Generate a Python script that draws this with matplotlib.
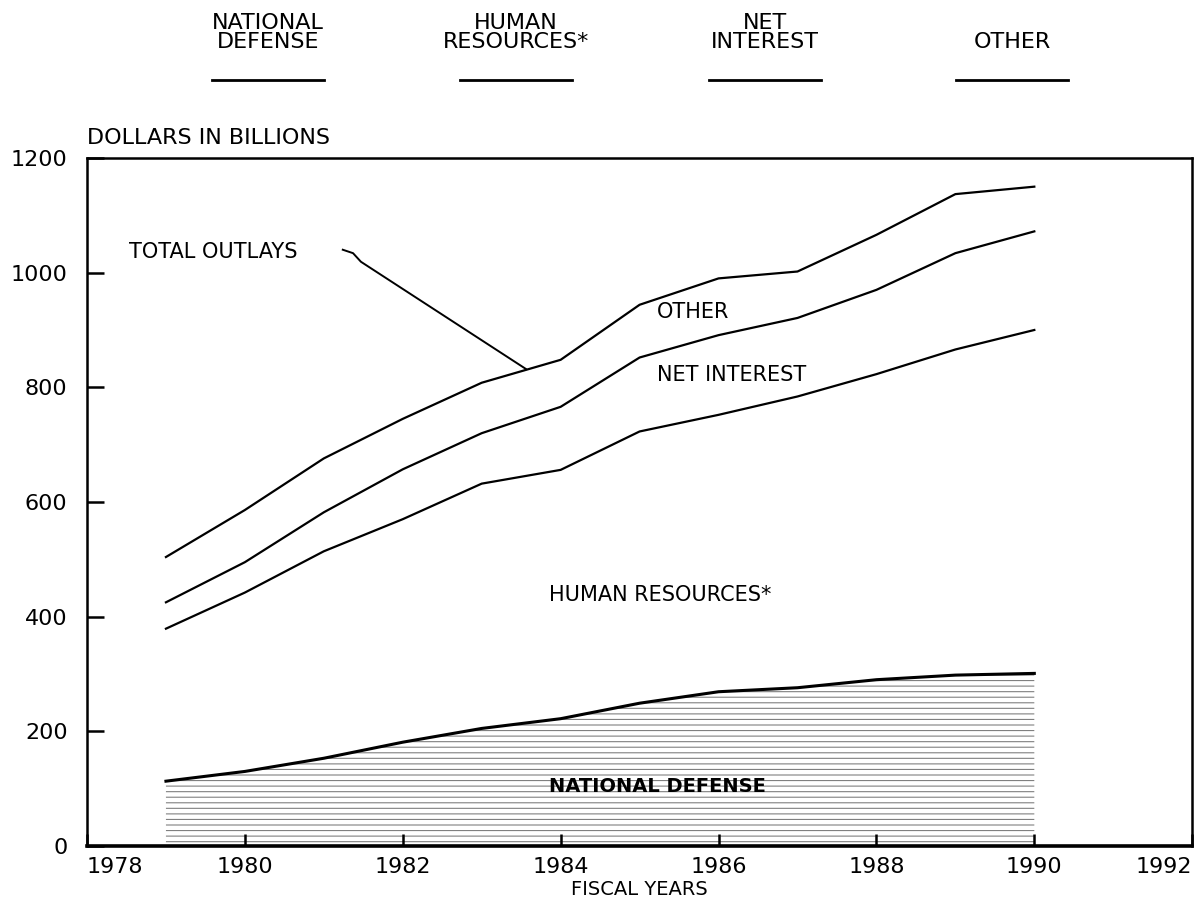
import matplotlib
matplotlib.use('Agg')
import matplotlib.pyplot as plt
from matplotlib.lines import Line2D
import numpy as np

# fiscal years and outlays (dollars in billions)
years = [1979, 1980, 1981, 1982, 1983, 1984, 1985, 1986, 1987, 1988, 1989, 1990]
national_defense = [113, 130, 153, 181, 205, 222, 249, 269, 276, 290, 298, 301]
human_resources = [266, 312, 361, 389, 427, 434, 474, 483, 508, 533, 568, 599]
net_interest = [46, 53, 68, 87, 88, 110, 129, 139, 137, 147, 168, 172]
other = [79, 91, 94, 88, 88, 82, 92, 99, 81, 96, 103, 78]

legend_labels = ['NATIONAL\nDEFENSE', 'HUMAN\nRESOURCES*', 'NET\nINTEREST', 'OTHER']
xticks = [1978, 1980, 1982, 1984, 1986, 1988, 1990, 1992]
yticks = [0, 200, 400, 600, 800, 1000, 1200]

plt.rcParams['font.family'] = 'DejaVu Sans'
plt.rcParams['hatch.linewidth'] = 0.8

# stack the layers
top_def = np.array(national_defense)
top_hr = top_def + np.array(human_resources)
top_int = top_hr + np.array(net_interest)
top_total = top_int + np.array(other)

fig = plt.figure(figsize=(12, 9.07), dpi=100)
ax = fig.add_axes([0.0725, 0.0673, 0.921, 0.7585])

# hatched national defense area
ax.fill_between(years, 0, top_def, facecolor='none', edgecolor='0.5',
                hatch='---', linewidth=0)
ax.plot(years, top_def, color='black', lw=2.2)
ax.plot(years, top_hr, color='black', lw=1.6)
ax.plot(years, top_int, color='black', lw=1.6)
ax.plot(years, top_total, color='black', lw=1.6)

ax.set_xlim(1978, 1992)
ax.set_ylim(0, 1200)
ax.set_xticks(xticks)
ax.set_yticks(yticks)
ax.set_xticklabels([str(x) for x in xticks], fontsize=16)
ax.set_yticklabels([str(y) for y in yticks], fontsize=16)
labs = ax.get_xticklabels()
labs[0].set_horizontalalignment('left')
labs[-1].set_horizontalalignment('right')
ax.tick_params(axis='x', direction='in', length=9, width=1.8, pad=8)
ax.tick_params(axis='y', direction='in', length=12, width=1.8, pad=14)
for s in ax.spines.values():
    s.set_linewidth(1.8)
ax.spines['bottom'].set_linewidth(2.6)

ax.set_xlabel('FISCAL YEARS', fontsize=14, labelpad=2)
ax.text(0, 1.029, 'DOLLARS IN BILLIONS', transform=ax.transAxes,
        fontsize=16, ha='left', va='center')

# in-plot labels
ax.text(1978.53, 1036, 'TOTAL OUTLAYS', fontsize=15, va='center')
ax.plot([1981.24, 1981.37, 1981.47, 1983.56], [1040, 1034, 1019, 832],
        color='black', lw=1.4)
ax.text(1985.22, 932, 'OTHER', fontsize=15, va='center')
ax.text(1985.22, 822, 'NET INTEREST', fontsize=15, va='center')
ax.text(1983.85, 438, 'HUMAN RESOURCES*', fontsize=15, va='center')
ax.text(1983.85, 104, 'NATIONAL DEFENSE', fontsize=14, va='center',
        fontweight='bold')

# legend row across the top
centers = [268, 516, 765, 1012]
for lab, cx in zip(legend_labels, centers):
    fig.text(cx / 1200, 1 - 52 / 907, lab, fontsize=16, ha='center',
             va='bottom', linespacing=0.95)
    fig.add_artist(Line2D([(cx - 56) / 1200, (cx + 56) / 1200],
                          [1 - 80 / 907, 1 - 80 / 907], color='black', lw=2))

fig.savefig('out.png', dpi=100)
